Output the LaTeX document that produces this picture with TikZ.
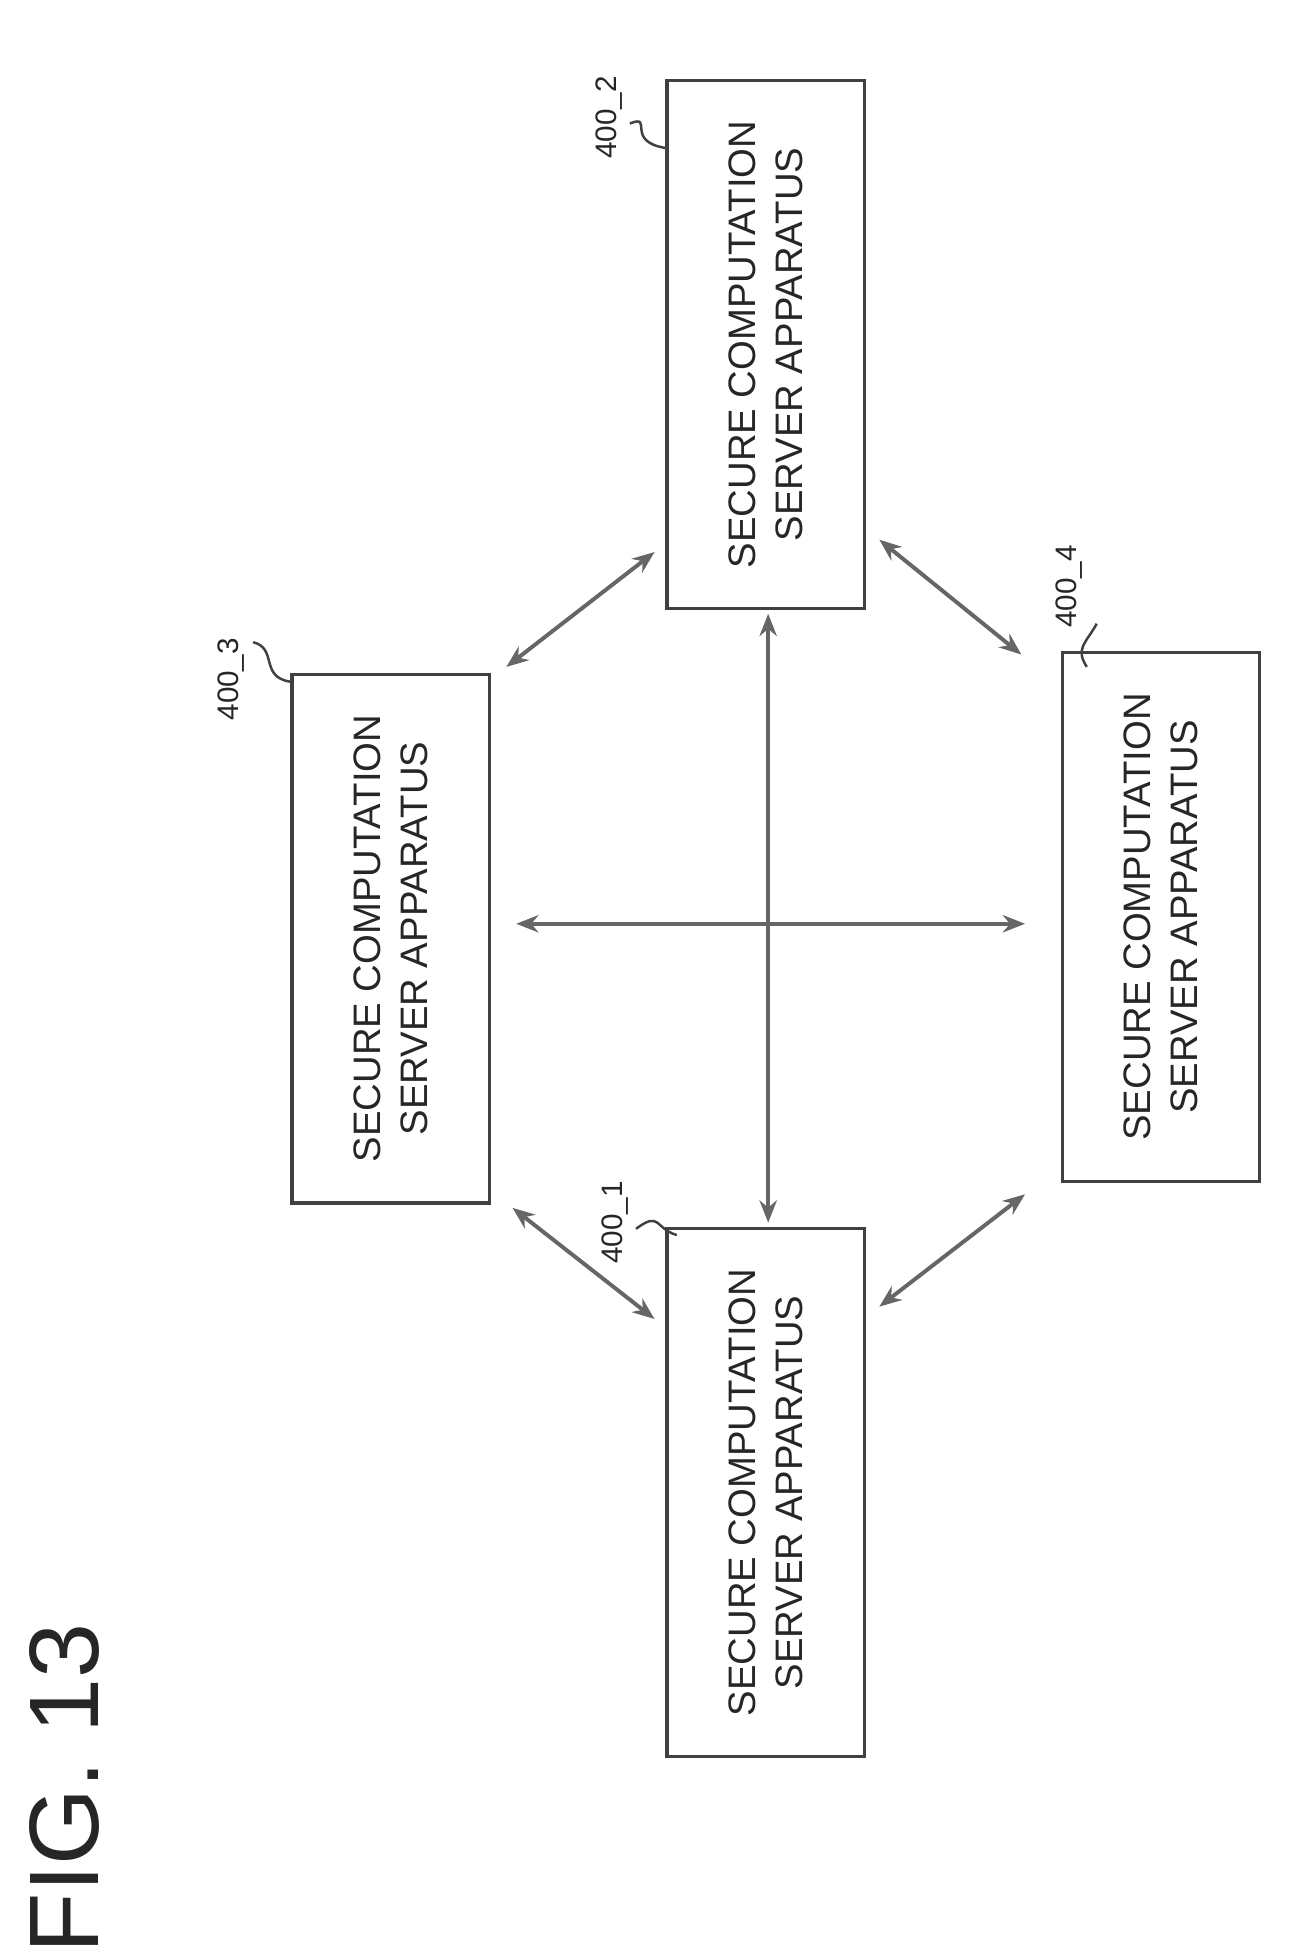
\documentclass[tikz,border=0pt]{standalone}
\usepackage{fontspec}
\setmainfont{Liberation Sans}
\usetikzlibrary{arrows.meta}
\begin{document}
\begin{tikzpicture}[x=0.5pt,y=-0.5pt,
 box/.style={draw=black!75,line width=1.3pt,minimum width=80pt,minimum height=214pt,inner sep=0pt},
 txt/.style={rotate=90,font=\fontsize{15.5}{19}\selectfont,align=center,text=black!85},
 lbl/.style={rotate=90,font=\fontsize{12}{14}\selectfont,text=black!85},
 arr/.style={draw=black!60,line width=1.6pt,{Stealth[length=9pt,width=7pt]}-{Stealth[length=9pt,width=7pt]}},
 sq/.style={draw=black!75,line width=1pt}]
\useasboundingbox (0,0) rectangle (1049,1583);
\node[box] (b2) at (620,279) {};
\node[box] (b3) at (316.5,760) {};
\node[box] (b4) at (940,742.5) {};
\node[box] (b1) at (620,1208.5) {};
\foreach \b in {b1,b2,b3,b4}{\node[txt] at (\b) {SECURE COMPUTATION\\SERVER APPARATUS};}
\node[lbl] (l2) at (493,95) {400\_2};
\node[lbl] (l3) at (187,550) {400\_3};
\node[lbl] (l4) at (866,475) {400\_4};
\node[lbl] (l1) at (498,990) {400\_1};
\coordinate (c2) at (540,120); \coordinate (c3) at (235,552);
\coordinate (c4) at (880,540); \coordinate (c1) at (548,1000);
\draw[sq] (510,100) .. controls (530,92) and (505,115) .. (c2);
\draw[sq] (205,520) .. controls (225,525) and (210,548) .. (c3);
\draw[sq] (888,505) .. controls (880,520) and (870,525) .. (c4);
\draw[sq] (515,995) .. controls (535,980) and (530,995) .. (c1);
\coordinate (v1) at (622,497); \coordinate (v2) at (622,990);
\coordinate (h1) at (418,748); \coordinate (h2) at (830,748);
\draw[arr] (v1) -- (v2);
\draw[arr] (h1) -- (h2);
\coordinate (a1) at (410,540); \coordinate (a2) at (530,447);
\coordinate (a3) at (712,437); \coordinate (a4) at (827,530);
\coordinate (a5) at (415,978); \coordinate (a6) at (530,1068);
\coordinate (a7) at (712,1058); \coordinate (a8) at (830,967);
\draw[arr] (a1) -- (a2); \draw[arr] (a3) -- (a4);
\draw[arr] (a5) -- (a6); \draw[arr] (a7) -- (a8);
\node[rotate=90,font=\fontsize{40}{46}\selectfont,text=black!85] (fig) at (52,1448) {FIG. 13};
\end{tikzpicture}
\end{document}
